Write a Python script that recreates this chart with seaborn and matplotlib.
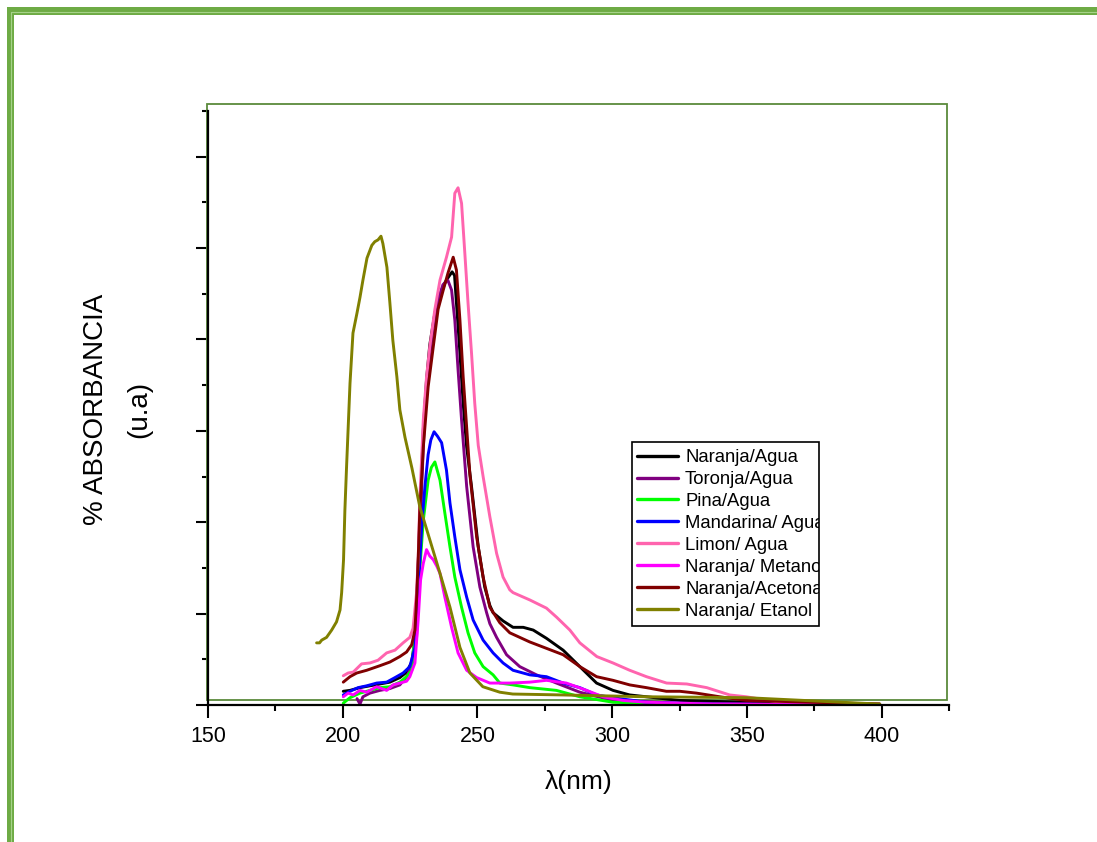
import numpy as np
import pandas as pd
import matplotlib
matplotlib.use("Agg")
import matplotlib.pyplot as plt
import seaborn as sns
from matplotlib.patches import Rectangle
from matplotlib.lines import Line2D
from matplotlib.ticker import MultipleLocator
from matplotlib.transforms import Bbox, TransformedBbox

# ---------------- data ----------------
series_labels = ["Naranja/Agua", "Toronja/Agua", "Pina/Agua", "Mandarina/ Agua",
                 "Limon/ Agua", "Naranja/ Metanol", "Naranja/Acetona", "Naranja/ Etanol"]
series_colors = ["#000000", "#800080", "#00FF00", "#0000FF",
                 "#FF64AE", "#FF00FF", "#800000", "#808000"]

wl_naranja_agua = [200.2, 202.7, 206.4, 210.1, 213.8, 217.5, 221.2, 223.7, 225.6, 226.8, 227.5, 228.2,
                   228.9, 229.9, 231.1, 232.3, 234.2, 236.1, 237.9, 239.4, 240.6, 241.5, 242.2, 243.5,
                   244.7, 246.0, 247.8, 250.3, 252.7, 254.6, 255.8, 259.5, 263.2, 267.0, 270.7, 275.6,
                   281.8, 288.0, 294.2, 300.3, 306.5, 312.7, 325.1, 349.8, 399.3]
ab_naranja_agua = [0.015, 0.016, 0.019, 0.021, 0.023, 0.025, 0.030, 0.036, 0.047, 0.071, 0.115, 0.170,
                   0.224, 0.301, 0.356, 0.394, 0.429, 0.446, 0.462, 0.469, 0.474, 0.470, 0.440, 0.385,
                   0.330, 0.282, 0.239, 0.173, 0.129, 0.109, 0.101, 0.092, 0.085, 0.085, 0.082, 0.073,
                   0.060, 0.042, 0.024, 0.016, 0.011, 0.009, 0.005, 0.003, 0.001]

wl_toronja_agua = [205.3, 206.4, 207.5, 210.1, 213.8, 217.5, 221.2, 223.7, 226.1, 227.4, 228.0, 228.6,
                   229.4, 230.5, 231.7, 233.5, 235.3, 237.2, 239.0, 240.4, 241.6, 242.8, 244.1, 246.0,
                   248.4, 250.9, 253.4, 254.6, 257.1, 260.8, 265.7, 271.9, 279.3, 288.0, 300.3, 325.1, 399.3]
ab_toronja_agua = [0.007, 0.001, 0.009, 0.013, 0.016, 0.018, 0.022, 0.031, 0.046, 0.074, 0.115, 0.170,
                   0.246, 0.323, 0.367, 0.410, 0.443, 0.460, 0.465, 0.454, 0.421, 0.367, 0.312, 0.239,
                   0.173, 0.129, 0.101, 0.089, 0.074, 0.055, 0.042, 0.033, 0.024, 0.014, 0.005, 0.002, 0.000]

wl_pina_agua = [200.2, 202.7, 206.4, 210.1, 213.8, 217.5, 221.2, 223.7, 225.6, 226.1, 227.4, 228.6,
                229.9, 231.7, 232.9, 234.2, 236.1, 237.9, 239.8, 241.6, 244.1, 246.5, 249.0, 252.1,
                255.8, 258.3, 263.2, 269.4, 279.3, 288.0, 300.3, 312.7, 337.4, 399.3]
ab_pina_agua = [0.002, 0.008, 0.013, 0.016, 0.019, 0.020, 0.025, 0.031, 0.038, 0.057, 0.093, 0.148,
                0.202, 0.246, 0.260, 0.266, 0.246, 0.210, 0.173, 0.140, 0.107, 0.079, 0.057, 0.042,
                0.033, 0.024, 0.022, 0.019, 0.016, 0.009, 0.003, 0.002, 0.000, 0.000]

wl_mandarina_agua = [200.2, 202.7, 205.7, 208.9, 212.6, 216.3, 219.4, 222.4, 224.9, 226.8, 228.0, 229.3,
                     230.5, 231.7, 232.7, 233.9, 235.2, 236.7, 238.5, 239.8, 241.6, 243.5, 246.0, 248.4,
                     252.1, 255.8, 259.5, 263.2, 269.4, 275.6, 281.8, 288.0, 294.2, 300.3, 312.7, 337.4, 399.3]
ab_mandarina_agua = [0.011, 0.015, 0.019, 0.021, 0.024, 0.025, 0.030, 0.035, 0.042, 0.063, 0.123, 0.195,
                     0.239, 0.274, 0.290, 0.299, 0.294, 0.287, 0.257, 0.221, 0.184, 0.148, 0.118, 0.093,
                     0.071, 0.057, 0.046, 0.038, 0.033, 0.031, 0.024, 0.019, 0.011, 0.008, 0.003, 0.001, 0.000]

wl_limon_agua = [200.2, 202.0, 203.9, 207.0, 210.1, 213.1, 216.3, 219.4, 222.4, 224.9, 226.1, 227.4,
                 228.0, 228.6, 229.9, 231.1, 232.3, 234.2, 236.1, 238.5, 240.4, 241.6, 242.8, 244.1,
                 245.3, 246.5, 247.8, 249.0, 250.3, 252.1, 254.6, 257.1, 259.5, 262.0, 263.2, 269.4,
                 275.6, 279.4, 284.3, 288.0, 294.3, 300.3, 306.5, 312.7, 320.2, 327.7, 335.1, 343.6,
                 349.8, 362.2, 374.4, 399.3]
ab_limon_agua = [0.032, 0.035, 0.036, 0.045, 0.046, 0.049, 0.057, 0.060, 0.068, 0.074, 0.084, 0.123,
                 0.159, 0.224, 0.312, 0.359, 0.392, 0.433, 0.465, 0.490, 0.512, 0.560, 0.566, 0.549,
                 0.495, 0.440, 0.385, 0.330, 0.284, 0.250, 0.206, 0.166, 0.140, 0.126, 0.123, 0.115,
                 0.106, 0.096, 0.082, 0.068, 0.053, 0.046, 0.038, 0.031, 0.024, 0.023, 0.019, 0.011,
                 0.009, 0.003, 0.002, 0.001]

wl_naranja_metanol = [200.2, 202.0, 203.9, 206.4, 208.9, 212.6, 216.3, 218.7, 221.2, 223.7, 224.9, 226.8,
                      228.0, 228.9, 229.9, 231.1, 232.3, 233.6, 234.9, 236.1, 237.9, 240.4, 242.8, 246.0,
                      249.7, 254.6, 262.0, 269.4, 275.6, 283.0, 290.5, 296.6, 304.0, 312.7, 337.4, 399.3]
ab_naranja_metanol = [0.009, 0.013, 0.011, 0.016, 0.014, 0.020, 0.016, 0.022, 0.024, 0.026, 0.031, 0.046,
                      0.093, 0.137, 0.155, 0.170, 0.163, 0.159, 0.152, 0.144, 0.118, 0.085, 0.057, 0.038,
                      0.030, 0.024, 0.024, 0.025, 0.027, 0.024, 0.016, 0.009, 0.005, 0.003, 0.001, 0.000]

wl_naranja_acetona = [200.2, 202.7, 205.2, 208.9, 213.8, 217.5, 221.2, 223.7, 225.6, 226.8, 227.4, 228.0,
                      228.6, 229.3, 229.9, 231.7, 233.6, 235.4, 237.3, 239.1, 241.0, 242.2, 243.5, 244.7,
                      246.5, 247.2, 249.7, 252.1, 254.6, 258.3, 262.0, 269.4, 275.6, 281.8, 288.0, 294.2,
                      300.3, 306.5, 312.7, 320.1, 325.1, 331.3, 339.9, 349.8, 399.3]
ab_naranja_acetona = [0.025, 0.031, 0.035, 0.038, 0.043, 0.047, 0.053, 0.058, 0.066, 0.082, 0.115, 0.159,
                      0.213, 0.249, 0.282, 0.348, 0.392, 0.433, 0.454, 0.473, 0.490, 0.476, 0.421, 0.359,
                      0.282, 0.252, 0.184, 0.140, 0.107, 0.090, 0.079, 0.069, 0.062, 0.055, 0.042, 0.031,
                      0.027, 0.022, 0.019, 0.015, 0.015, 0.013, 0.009, 0.005, 0.001]

wl_naranja_etanol = [190.3, 191.4, 192.2, 194.0, 195.9, 197.7, 199.0, 199.6, 200.3, 200.8, 201.4, 202.7,
                     203.8, 205.3, 206.4, 207.5, 209.0, 210.8, 211.9, 213.1, 214.2, 214.9, 216.4, 217.5,
                     218.6, 220.1, 221.2, 223.1, 225.7, 228.6, 232.3, 236.1, 239.8, 243.5, 247.2, 252.0,
                     258.3, 263.1, 281.7, 312.8, 349.9, 399.3]
ab_naranja_etanol = [0.068, 0.068, 0.071, 0.074, 0.082, 0.091, 0.104, 0.123, 0.159, 0.213, 0.259, 0.352,
                     0.407, 0.429, 0.446, 0.465, 0.489, 0.503, 0.507, 0.509, 0.513, 0.505, 0.479, 0.440,
                     0.399, 0.359, 0.323, 0.293, 0.259, 0.217, 0.181, 0.144, 0.107, 0.063, 0.035, 0.020,
                     0.014, 0.012, 0.011, 0.009, 0.008, 0.001]

x_ticks = [150, 200, 250, 300, 350, 400]
x_label = "λ(nm)"
y_label = "% ABSORBANCIA\n(u.a)"

series_x = [wl_naranja_agua, wl_toronja_agua, wl_pina_agua, wl_mandarina_agua,
            wl_limon_agua, wl_naranja_metanol, wl_naranja_acetona, wl_naranja_etanol]
series_y = [ab_naranja_agua, ab_toronja_agua, ab_pina_agua, ab_mandarina_agua,
            ab_limon_agua, ab_naranja_metanol, ab_naranja_acetona, ab_naranja_etanol]

frames = []
for lab, xs, ys in zip(series_labels, series_x, series_y):
    frames.append(pd.DataFrame({"wl": xs, "ab": ys, "serie": lab}))
df = pd.concat(frames, ignore_index=True)

# ---------------- style ----------------
sns.set_style("ticks")
plt.rcParams["font.family"] = ["Liberation Sans", "DejaVu Sans"]

W, H = 1097, 842
fig = plt.figure(figsize=(W / 100, H / 100), dpi=100)
ax = fig.add_axes([208 / W, 1 - 705 / H, (949 - 208) / W, (705 - 111) / H])

sns.lineplot(data=df, x="wl", y="ab", hue="serie", hue_order=series_labels,
             palette=series_colors, estimator=None, sort=False, linewidth=2.1, ax=ax)
for ln in ax.get_lines():
    ln.set_solid_joinstyle("round")

ax.set_xlim(150, 425)
ax.set_ylim(0, 0.65)
ax.set_xticks(x_ticks)
ax.xaxis.set_minor_locator(MultipleLocator(25))
ax.yaxis.set_major_locator(MultipleLocator(0.1))
ax.yaxis.set_minor_locator(MultipleLocator(0.05))
ax.tick_params(axis="both", which="major", direction="out", length=9, width=1.5,
               color="black", labelsize=15.5, labelcolor="black", pad=6)
ax.tick_params(axis="both", which="minor", direction="out", length=4.5, width=1.5, color="black")
ax.tick_params(axis="y", labelleft=False)

for s in ["top", "right"]:
    ax.spines[s].set_visible(False)
for s in ["left", "bottom"]:
    ax.spines[s].set_color("black")
    ax.spines[s].set_linewidth(1.6)

ax.set_xlabel(x_label, fontsize=19, labelpad=17, color="black")
ax.set_ylabel(y_label, fontsize=20, color="black", linespacing=1.9,
              ha="center", va="center")
ax.yaxis.set_label_coords(-0.122, 0.497)

# green frame around plot area
ax.add_patch(Rectangle((-0.0013, 0.0084), 0.9986, 1.0034, transform=ax.transAxes,
                       fill=False, edgecolor="#5B8A3C", linewidth=1.3, clip_on=False, zorder=1))

# legend with a fixed frame (labels clipped by the frame)
handles, lbls = ax.get_legend_handles_labels()
leg = ax.legend(handles, lbls, loc="upper left", bbox_to_anchor=(0.579, 0.431),
                frameon=False, borderpad=0, borderaxespad=0, handlelength=2.2,
                handletextpad=0.4, labelspacing=0.27, fontsize=13.3)
for h in leg.legend_handles:
    h.set_linewidth(2.4)
fx0, fy0, fx1, fy1 = 0.572, 0.133, 0.8246, 0.4428
ax.add_patch(Rectangle((fx0, fy0), fx1 - fx0, fy1 - fy0, transform=ax.transAxes,
                       fill=False, edgecolor="black", linewidth=1.2, zorder=6))
clip = TransformedBbox(Bbox([[fx0, fy0], [fx1, fy1]]), ax.transAxes)
for t in leg.get_texts():
    t.set_clip_box(clip)
    t.set_clip_on(True)
    t.set_color("black")

# page border (green, top and left)
fig.add_artist(Rectangle((7 / W, 1 - 15 / H), 1 - 7 / W, 8 / H, transform=fig.transFigure,
                         facecolor="#6EAB45", edgecolor="none"))
fig.add_artist(Rectangle((7 / W, 0), 7 / W, 1 - 7 / H, transform=fig.transFigure,
                         facecolor="#6EAB45", edgecolor="none"))
fig.add_artist(Line2D([11 / W, 1], [1 - 11.5 / H, 1 - 11.5 / H], transform=fig.transFigure,
                      color="#A6D28A", linewidth=0.8))
fig.add_artist(Line2D([10.5 / W, 10.5 / W], [0, 1 - 11.5 / H], transform=fig.transFigure,
                      color="#A6D28A", linewidth=0.8))

fig.savefig("out.png", dpi=100, facecolor="white")
